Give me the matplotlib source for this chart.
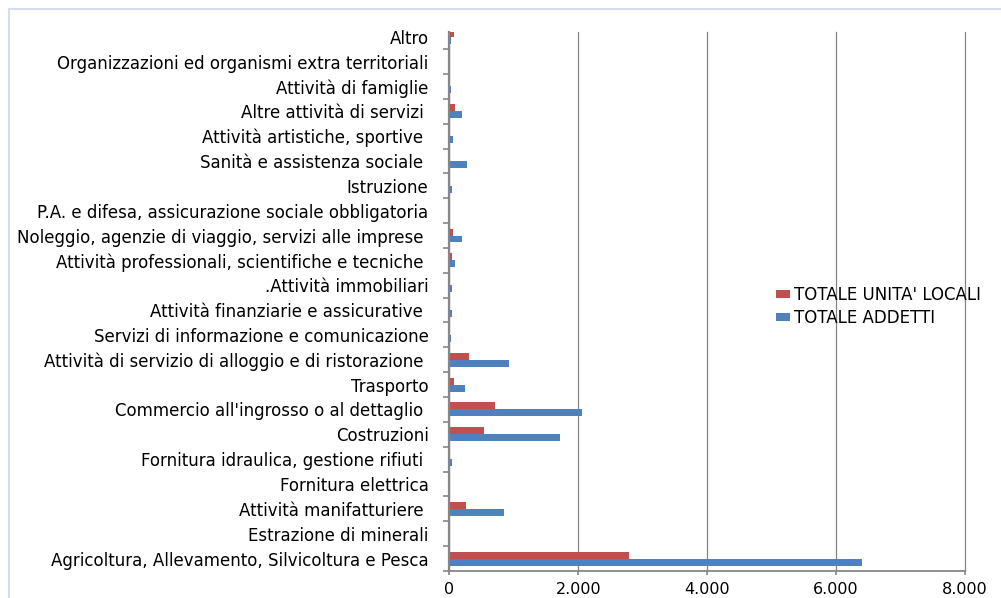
import numpy as np
import matplotlib
matplotlib.use('Agg')
import matplotlib.pyplot as plt
from matplotlib.lines import Line2D

# Sectors, listed from the bottom of the chart to the top
categories = [
    'Agricoltura, Allevamento, Silvicoltura e Pesca',
    'Estrazione di minerali',
    'Attività manifatturiere ',
    'Fornitura elettrica',
    'Fornitura idraulica, gestione rifiuti ',
    'Costruzioni',
    "Commercio all'ingrosso o al dettaglio ",
    'Trasporto',
    'Attività di servizio di alloggio e di ristorazione ',
    'Servizi di informazione e comunicazione',
    'Attività finanziarie e assicurative ',
    '.Attività immobiliari',
    'Attività professionali, scientifiche e tecniche ',
    'Noleggio, agenzie di viaggio, servizi alle imprese ',
    'P.A. e difesa, assicurazione sociale obbligatoria',
    'Istruzione',
    'Sanità e assistenza sociale ',
    'Attività artistiche, sportive ',
    'Altre attività di servizi ',
    'Attività di famiglie',
    'Organizzazioni ed organismi extra territoriali',
    'Altro',
]

unita_locali = [2780, 10, 260, 10, 15, 540, 710, 75, 310, 15, 15, 15,
                47, 62, 0, 15, 15, 15, 93, 15, 0, 78]
addetti = [6400, 12, 840, 15, 47, 1710, 2050, 243, 930, 31, 47, 47,
           93, 200, 0, 36, 280, 62, 196, 20, 0, 31]

x_ticks = [0, 2000, 4000, 6000, 8000]
x_tick_labels = ['0', '2.000', '4.000', '6.000', '8.000']

RED = '#C0504D'
BLUE = '#4F81BD'
GREY = '#868686'

fig = plt.figure(figsize=(10.01, 5.98), dpi=100)
ax = fig.add_axes([0.449, 0.0452, 0.515, 0.9013])

y = np.arange(len(categories))
h = 0.28
ax.barh(y + h / 2, unita_locali, height=h, color=RED, label="TOTALE UNITA' LOCALI", zorder=3)
ax.barh(y - h / 2, addetti, height=h, color=BLUE, label='TOTALE ADDETTI', zorder=3)

ax.set_xlim(0, 8000)
ax.set_ylim(-0.5, 21.19)

ax.set_xticks(x_ticks)
ax.set_xticklabels(x_tick_labels)
ax.set_yticks(y)
ax.set_yticklabels(categories)
ax.set_yticks(np.arange(-0.5, len(categories) - 1, 1.0), minor=True)

ax.tick_params(axis='y', which='major', length=0, pad=15, labelsize=12, labelcolor='black')
ax.tick_params(axis='y', which='minor', length=4.5, width=1.2, color=GREY, direction='out')
ax.tick_params(axis='x', which='major', length=3, width=1.2, color=GREY, direction='out',
               pad=5, labelsize=11.5)

ax.grid(axis='x', color=GREY, lw=0.9, zorder=0)
for g in ax.get_xgridlines():
    g.set_clip_on(False)

for s in ['top', 'right']:
    ax.spines[s].set_visible(False)
ax.spines['left'].set_color(GREY)
ax.spines['left'].set_linewidth(1.6)
ax.spines['bottom'].set_color(GREY)
ax.spines['bottom'].set_linewidth(1.3)
ax.spines['left'].set_zorder(4)

ax.legend(loc='upper left', bbox_to_anchor=(0.767, 0.536), bbox_transform=fig.transFigure,
          frameon=False, fontsize=12, borderpad=0, handlelength=0.85, handleheight=0.36,
          handletextpad=0.25, labelspacing=0.33)

# light chart-area border along the top and left
fig.add_artist(Line2D([0.009, 1.0], [0.985, 0.985], transform=fig.transFigure,
                      color='#D5DEEA', lw=1.5))
fig.add_artist(Line2D([0.009, 0.009], [0.0, 0.985], transform=fig.transFigure,
                      color='#D5DEEA', lw=1.5))

fig.savefig('out.png', dpi=100)
